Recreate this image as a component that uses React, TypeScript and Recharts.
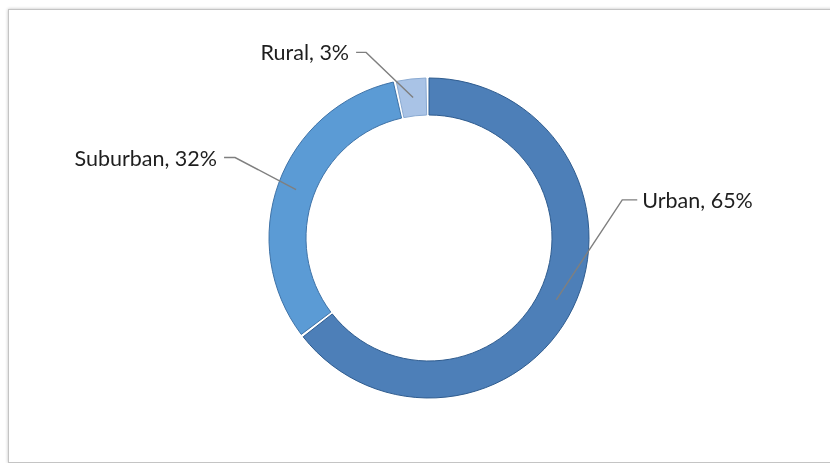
import React from "react";
import { PieChart, Pie, Cell } from "recharts";

const categories = ["Urban", "Suburban", "Rural"];
const shares = [65, 32, 3];

const fills = ["#4d7fb8", "#5b9bd5", "#a9c3e6"];
const strokes = ["#2f5c8f", "#3f73a8", "#8aaad2"];

// label leader layout (elbow offset from the slice anchor, and horizontal run)
const labelLayout = [
  { dx: 66, dy: -100, run: 15 },
  { dx: -61, dy: -32, run: -11 },
  { dx: -47, dy: -45, run: -10 },
];

const data = categories.map((name, i) => ({ name, value: shares[i] }));

const renderLabel = (props: any) => {
  const { cx, cy, midAngle, innerRadius, outerRadius, index, name, value } = props;
  const RAD = Math.PI / 180;
  const r = (innerRadius + outerRadius) / 2;
  const ax = cx + r * Math.cos(-midAngle * RAD);
  const ay = cy + r * Math.sin(-midAngle * RAD);
  const l = labelLayout[index];
  const ex = ax + l.dx;
  const ey = ay + l.dy;
  const hx = ex + l.run;
  const right = l.run > 0;
  return (
    <g>
      <polyline
        points={`${ax},${ay} ${ex},${ey} ${hx},${ey}`}
        fill="none"
        stroke="#7f7f7f"
        strokeWidth={1.4}
      />
      <text
        x={right ? hx + 5 : hx - 7}
        y={ey}
        textAnchor={right ? "start" : "end"}
        dominantBaseline="central"
        fontFamily="Lato, 'Open Sans', sans-serif"
        fontSize={21.5}
        fill="#1e1e1e"
      >
        {`${name}, ${value}%`}
      </text>
    </g>
  );
};

export default function App() {
  return (
    <div
      style={{
        position: "fixed",
        left: 8,
        top: 9,
        width: 830,
        height: 452,
        border: "1px solid #c4c4c4",
        borderRight: "none",
        boxShadow: "0 0 3px rgba(0,0,0,0.25)",
        background: "#ffffff",
      }}
    >
      <PieChart width={822} height={452}>
        <Pie
          data={data}
          dataKey="value"
          nameKey="name"
          cx={415}
          cy={223}
          innerRadius={123}
          outerRadius={160}
          startAngle={90}
          endAngle={-270}
          paddingAngle={1.1}
          label={renderLabel}
          labelLine={false}
          isAnimationActive={false}
        >
          {data.map((d, i) => (
            <Cell key={d.name} fill={fills[i]} stroke={strokes[i]} strokeWidth={1} />
          ))}
        </Pie>
      </PieChart>
    </div>
  );
}
